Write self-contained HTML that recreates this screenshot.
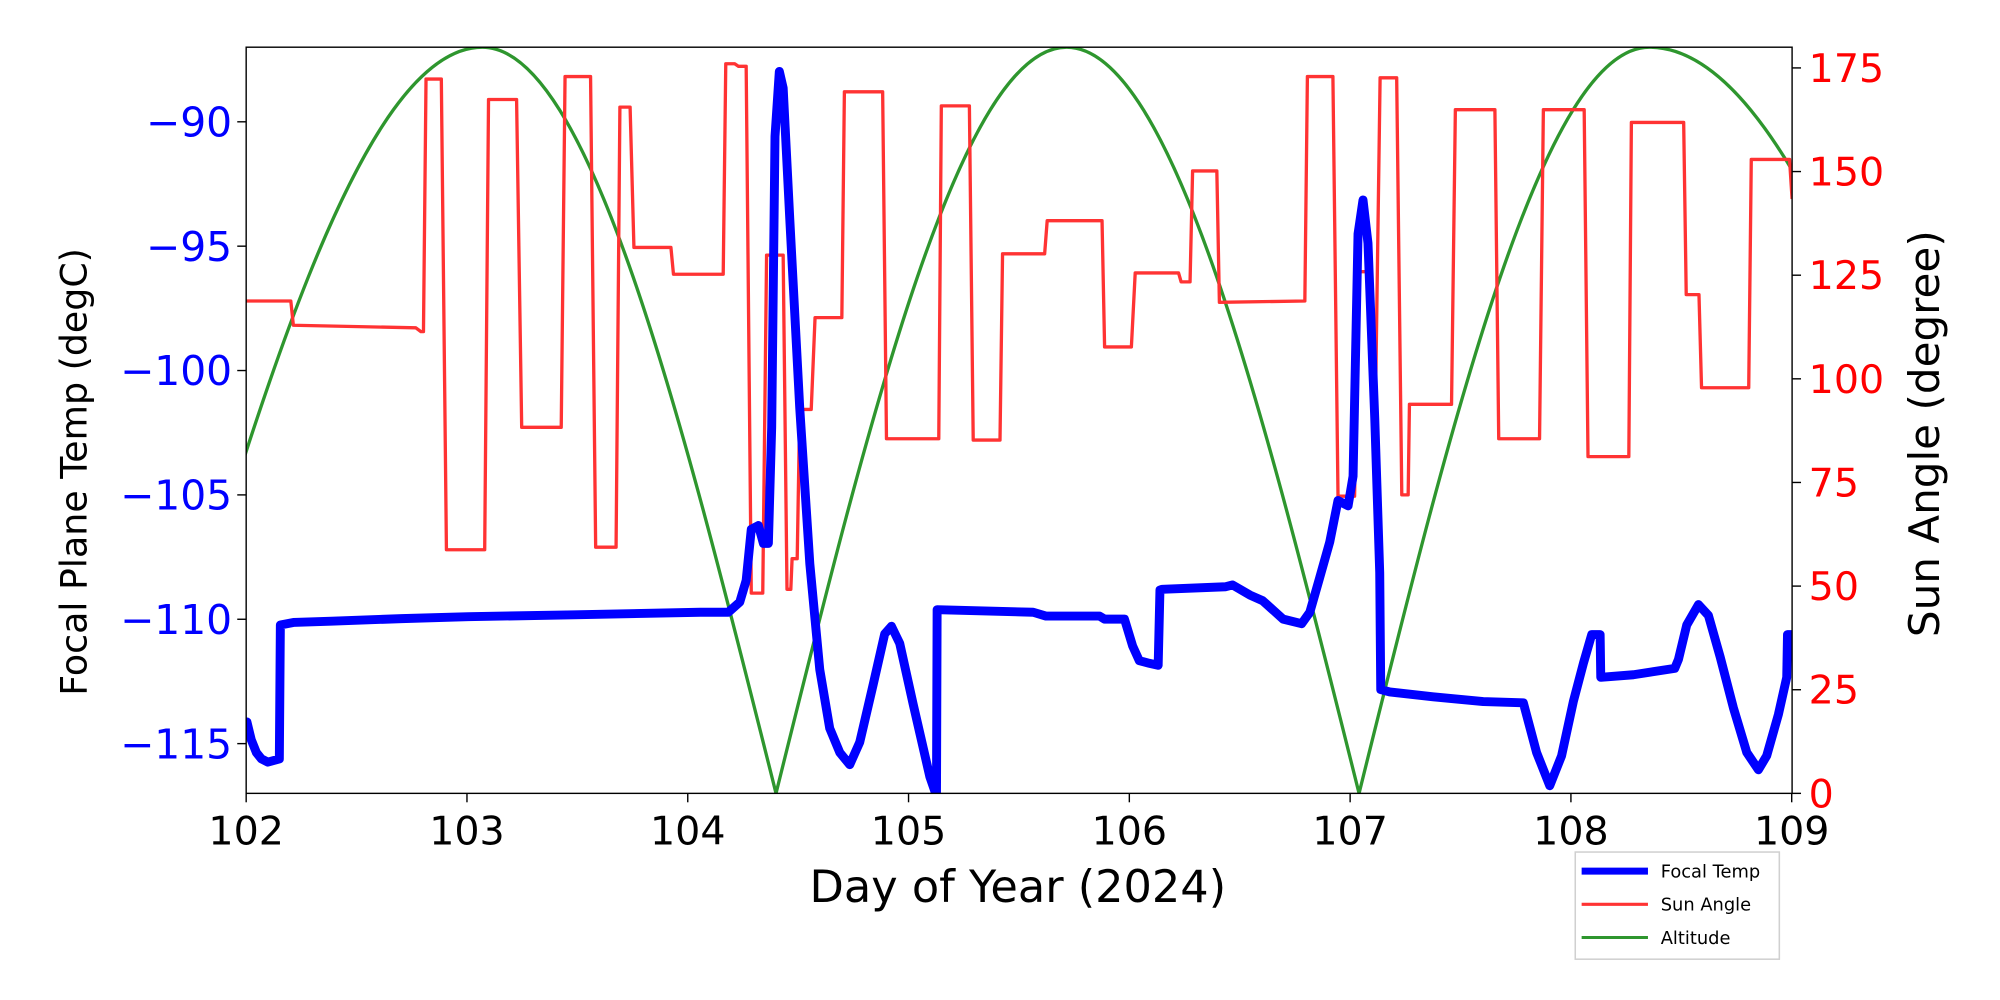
<!DOCTYPE html>
<html><head><meta charset="utf-8"><style>
html,body{margin:0;padding:0;background:#fff;}
svg{display:block;}
text{font-family:"DejaVu Sans","Liberation Sans",sans-serif;}
</style></head><body>
<svg width="2000" height="1000" viewBox="0 0 1568 784" preserveAspectRatio="none" xmlns="http://www.w3.org/2000/svg">
<defs><clipPath id="c"><rect x="193" y="37" width="1212" height="585"/></clipPath></defs>
<rect width="1568" height="784" fill="#fff"/>
<g clip-path="url(#c)">
<path fill="none" stroke="#2e962e" stroke-width="2.6" d="M112.5,622 C199.1,322.3 282,37 378.2,37 C461.5,37 533.3,322.3 608.4,622 C682.7,322.3 753.8,37 836.2,37 C919.2,37 990.7,322.3 1065.5,622 C1139.7,322.3 1210.7,37 1293.1,37 C1402.4,37 1496.7,322.3 1595.2,622"/>
<polyline fill="none" stroke="#ff3333" stroke-width="2.6" stroke-linejoin="round" points="193,236 228,236 230,255 326,257 330,260 332,260 334,62 346,62 350,431 380,431 383,78 405,78 409,335 440,335 443,60 463,60 467,429 483,429 486,84 494,84 497,194 526,194 528,215 567,215 569,50 576,50 579,52 585,52 589,465 598,465 601,200 614,200 617,462 620,462 621,438 625,438 627,321 636,321 639,249 660,249 662,72 692,72 695,344 736,344 738,83 760,83 763,345 784,345 786,199 819,199 821,173 864,173 866,272 887,272 890,214 924,214 926,221 933,221 935,134 954,134 956,237 1023,236 1025,60 1045,60 1049,389 1062,389 1065,213 1073,213 1078,343 1082,61 1095,61 1099,388 1104,388 1105,317 1138,317 1141,86 1172,86 1175,344 1207,344 1210,86 1242,86 1245,358 1277,358 1279,96 1320,96 1322,231 1332,231 1334,304 1371,304 1373,125 1403,125 1405,156"/>
<polyline fill="none" stroke="#0000ff" stroke-width="7" stroke-linejoin="round" stroke-linecap="round" points="193.6,566 197,580 201,590 205,595 210,597.5 219,595 219.8,490 230,488 260,487 315,485 367,483.5 450,482 549,480 571,480 580,472 585,455 589,415 594.6,412 598.5,426 602.4,426 605,335 607.6,107 611,56 614,69 619.2,172 627,320 634.9,442 642.7,525 650.5,571 658.4,590 666.2,599.5 674,582 684.5,537 693.6,497 698.9,491 705.4,504.5 715.9,552 729,609 734.2,624 734.7,478 810,480 820,483 862,483 866,485.4 881.6,485.4 888,506.5 893.2,518 901,520 908,521.6 909.4,462.6 911,462 961,460 966.3,458.6 979.9,466.5 990,471 1006,485.4 1020.5,489 1026.9,480 1034.6,453 1042.5,425 1049,392.4 1056.9,396.6 1060.8,373.4 1064.7,183.4 1068.6,156.8 1072.5,190.6 1077.8,327.8 1081.7,449 1082.5,540.6 1089.6,542.5 1123.6,546.3 1162.8,550 1194.3,551 1204.7,590 1215,616 1224.3,592.5 1233.5,550 1241.4,520 1247.9,497.5 1254.5,497.5 1255,531 1280.6,529 1313,524 1315.9,517 1322.4,490 1331.6,474 1339.4,482.5 1348.6,515 1359,555 1369.5,590 1378.6,603.5 1385.1,592.5 1394.3,560 1400.8,531 1401.4,497.5 1405,497.5"/>
</g>
<rect x="193" y="37" width="1212" height="585" fill="none" stroke="#000" stroke-width="1.1"/>
<g stroke="#000" stroke-width="1.1">
<line x1="193" y1="622" x2="193" y2="629"/><line x1="366.1" y1="622" x2="366.1" y2="629"/><line x1="539.2" y1="622" x2="539.2" y2="629"/><line x1="712.3" y1="622" x2="712.3" y2="629"/><line x1="885.4" y1="622" x2="885.4" y2="629"/><line x1="1058.5" y1="622" x2="1058.5" y2="629"/><line x1="1231.6" y1="622" x2="1231.6" y2="629"/><line x1="1404.7" y1="622" x2="1404.7" y2="629"/>
<line x1="186" y1="95.5" x2="193" y2="95.5"/><line x1="186" y1="193" x2="193" y2="193"/><line x1="186" y1="290.5" x2="193" y2="290.5"/><line x1="186" y1="388" x2="193" y2="388"/><line x1="186" y1="485.5" x2="193" y2="485.5"/><line x1="186" y1="583" x2="193" y2="583"/>
<line x1="1405" y1="622" x2="1412" y2="622"/><line x1="1405" y1="540.75" x2="1412" y2="540.75"/><line x1="1405" y1="459.5" x2="1412" y2="459.5"/><line x1="1405" y1="378.25" x2="1412" y2="378.25"/><line x1="1405" y1="297" x2="1412" y2="297"/><line x1="1405" y1="215.75" x2="1412" y2="215.75"/><line x1="1405" y1="134.5" x2="1412" y2="134.5"/><line x1="1405" y1="53.25" x2="1412" y2="53.25"/>
</g>
<g font-size="31" fill="#000" text-anchor="middle">
<text x="193" y="662">102</text><text x="366.1" y="662">103</text><text x="539.2" y="662">104</text><text x="712.3" y="662">105</text><text x="885.4" y="662">106</text><text x="1058.5" y="662">107</text><text x="1231.6" y="662">108</text><text x="1404.7" y="662">109</text>
</g>
<g font-size="32" fill="#0000ff" text-anchor="end">
<text x="182" y="107">−90</text><text x="182" y="204.5">−95</text><text x="182" y="302">−100</text><text x="182" y="399.5">−105</text><text x="182" y="497">−110</text><text x="182" y="594.5">−115</text>
</g>
<g font-size="31" fill="#ff0000" text-anchor="start">
<text x="1418" y="633">0</text><text x="1418" y="551.75">25</text><text x="1418" y="470.5">50</text><text x="1418" y="389.25">75</text><text x="1418" y="308">100</text><text x="1418" y="226.75">125</text><text x="1418" y="145.5">150</text><text x="1418" y="64.25">175</text>
</g>
<text x="798" y="707" font-size="35" text-anchor="middle" fill="#000">Day of Year (2024)</text>
<text transform="translate(68,370) rotate(-90)" font-size="28.5" text-anchor="middle" fill="#000">Focal Plane Temp (degC)</text>
<text transform="translate(1520,340) rotate(-90)" font-size="33" text-anchor="middle" fill="#000">Sun Angle (degree)</text>
<rect x="1235" y="668" width="160" height="84" fill="#fff" stroke="#d0d0d0" stroke-width="1.2"/>
<line x1="1240" y1="683" x2="1292" y2="683" stroke="#0000ff" stroke-width="5.5"/>
<line x1="1240" y1="709" x2="1292" y2="709" stroke="#ff3333" stroke-width="2.4"/>
<line x1="1240" y1="735" x2="1292" y2="735" stroke="#2e962e" stroke-width="2.4"/>
<g font-size="14" fill="#000">
<text x="1302" y="688">Focal Temp</text><text x="1302" y="714">Sun Angle</text><text x="1302" y="740">Altitude</text>
</g>
</svg>
</body></html>
